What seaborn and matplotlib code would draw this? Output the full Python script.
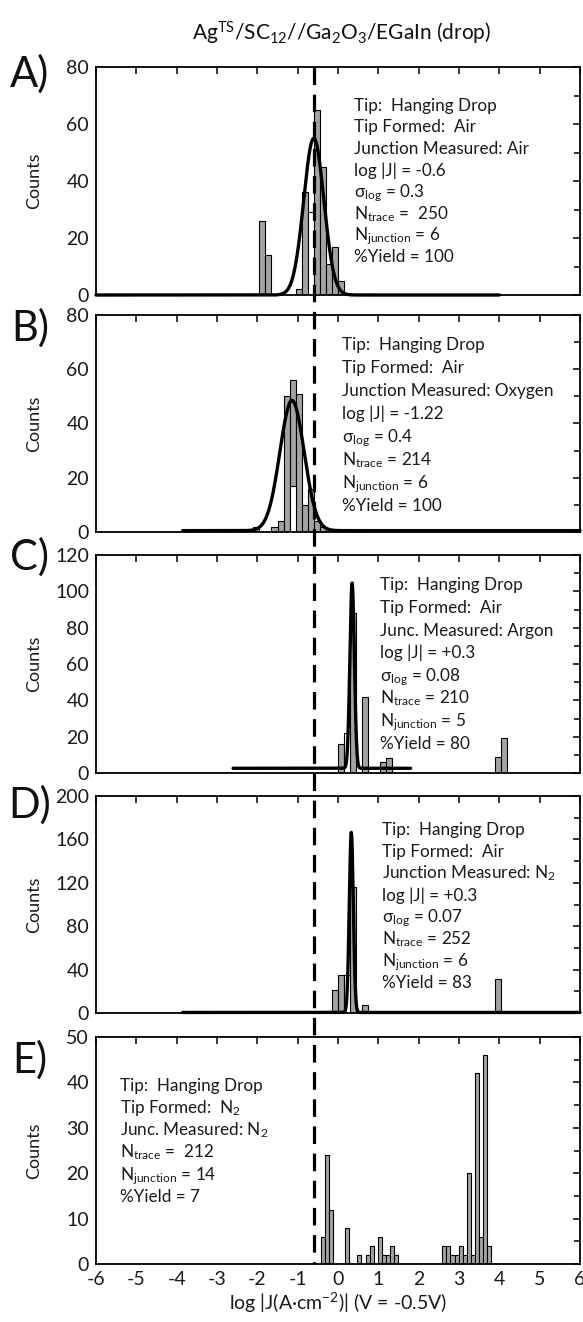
import numpy as np
import pandas as pd
import matplotlib
matplotlib.use("Agg")
import matplotlib.pyplot as plt
import matplotlib.transforms as mtransforms
from matplotlib.lines import Line2D
from matplotlib.ticker import MultipleLocator
import seaborn as sns

sns.set_theme(style="white")
plt.rcParams['font.family'] = ['Lato', 'DejaVu Sans']
plt.rcParams['mathtext.fontset'] = 'custom'
plt.rcParams['mathtext.rm'] = 'Lato'
plt.rcParams['mathtext.it'] = 'Lato:italic'
plt.rcParams['mathtext.bf'] = 'Lato:bold'
plt.rcParams['mathtext.default'] = 'rm'

# ---- datos ----
ref_logj = -0.6  # linea discontinua

# histogramas (centro de la barra, cuentas)
a_centers = [-1.875, -1.725, -0.975, -0.825, -0.525, -0.375, -0.225, -0.075, 0.075]
a_counts = [26, 14, 2, 36, 65, 45, 11, 17, 5]
a_hollow_centers = [-0.675]
a_hollow_counts = [29]

b_centers = [-2.025, -1.575, -1.425, -1.275, -1.125, -0.975, -0.825, -0.675, -0.525, -0.375]
b_counts = [2, 2, 4, 50, 56, 51, 10, 16, 4, 2]
b_hollow_centers = [-1.125]
b_hollow_counts = [17]

c_centers = [0.075, 0.375, 0.675, 1.125, 1.275, 3.975, 4.125]
c_counts = [16, 88, 42, 6, 8, 9, 19]
c_hollow_centers = [0.225]
c_hollow_counts = [22]

d_centers = [-0.075, 0.075, 0.375, 0.675, 3.975]
d_counts = [21, 35, 116, 7, 31]
d_hollow_centers = [0.225]
d_hollow_counts = [35]

e_centers = [-0.39, -0.29, -0.19, 0.21, 0.51, 0.71, 0.81, 1.01, 1.11, 1.21, 1.31, 1.41,
             2.61, 2.71, 2.81, 2.91, 3.01, 3.11, 3.21, 3.31, 3.41, 3.51, 3.61, 3.71]
e_counts = [6, 24, 12, 8, 2, 2, 4, 6, 2, 2, 4, 2,
            4, 4, 2, 2, 4, 2, 20, 2, 42, 6, 46, 4]

# ajustes gaussianos (A-D)
fit_mean = [-0.6, -1.14, 0.35, 0.33]
fit_sigma = [0.25, 0.30, 0.055, 0.05]
fit_peak = [55, 48, 102, 166]
fit_offset = [0, 0.5, 2.6, 0.5]
fit_start = [-6.0, -3.85, -2.6, -3.85]
fit_stop = [4.0, 6.0, 1.8, 6.0]

# ejes
y_max = [80, 80, 120, 200, 50]
y_major = [20, 20, 20, 40, 10]
y_minor = [10, 10, 10, 20, 5]
panel_letters = ["A)", "B)", "C)", "D)", "E)"]

notes = [
    ["Tip:  Hanging Drop", "Tip Formed:  Air", "Junction Measured: Air", "log |J| = -0.6",
     r"$\sigma_{log}$ = 0.3", r"$N_{trace}$ =  250", r"$N_{junction}$ = 6", "%Yield = 100"],
    ["Tip:  Hanging Drop", "Tip Formed:  Air", "Junction Measured: Oxygen", "log |J| = -1.22",
     r"$\sigma_{log}$ = 0.4", r"$N_{trace}$ = 214", r"$N_{junction}$ = 6", "%Yield = 100"],
    ["Tip:  Hanging Drop", "Tip Formed:  Air", "Junc. Measured: Argon", "log |J| = +0.3",
     r"$\sigma_{log}$ = 0.08", r"$N_{trace}$ = 210", r"$N_{junction}$ = 5", "%Yield = 80"],
    ["Tip:  Hanging Drop", "Tip Formed:  Air", r"Junction Measured: $N_{2}$", "log |J| = +0.3",
     r"$\sigma_{log}$ = 0.07", r"$N_{trace}$ = 252", r"$N_{junction}$ = 6", "%Yield = 83"],
    ["Tip:  Hanging Drop", r"Tip Formed:  $N_{2}$", r"Junc. Measured: $N_{2}$",
     r"$N_{trace}$ =  212", r"$N_{junction}$ = 14", "%Yield = 7"],
]

# ---- disposicion en pixeles ----
W, H = 583, 1322
left_px, right_px = 96, 580
panel_px = [(67, 295), (315, 532), (555, 773), (796, 1013), (1037, 1264)]
note_px = [(354, 105, 21.7), (342, 345, 22.9), (380, 585, 22.6), (382, 829, 22.0), (120, 1085, 22.4)]
letter_y_px = [74, 328, 557, 805, 1060]

fig = plt.figure(figsize=(W / 100, H / 100), dpi=100)

hist_data = [(a_centers, a_counts, a_hollow_centers, a_hollow_counts),
             (b_centers, b_counts, b_hollow_centers, b_hollow_counts),
             (c_centers, c_counts, c_hollow_centers, c_hollow_counts),
             (d_centers, d_counts, d_hollow_centers, d_hollow_counts),
             (e_centers, e_counts, [], [])]


def draw_hist(ax, centers, counts, color, width, start):
    df = pd.DataFrame({"logJ": centers, "n": counts})
    sns.histplot(data=df, x="logJ", weights="n", binwidth=width, binrange=(start, 6.0),
                 ax=ax, color=color, alpha=1, edgecolor="black", linewidth=0.8)


axes = []
for i, (top, bot) in enumerate(panel_px):
    ax = fig.add_axes([left_px / W, 1 - bot / H, (right_px - left_px) / W, (bot - top) / H])
    axes.append(ax)
    centers, counts, hc, hcnt = hist_data[i]
    width, start = (0.1, -5.94) if i == 4 else (0.15, -6.0)

    draw_hist(ax, centers, counts, "#a3a3a3", width, start)
    if hc:
        draw_hist(ax, hc, hcnt, "white", width, start)

    if i < 4:
        xg = np.linspace(fit_start[i], fit_stop[i], 800)
        yg = fit_offset[i] + fit_peak[i] * np.exp(-0.5 * ((xg - fit_mean[i]) / fit_sigma[i]) ** 2)
        sns.lineplot(x=xg, y=yg, ax=ax, color="black", linewidth=2.4, estimator=None, sort=False)
        ax.lines[-1].set_clip_on(False)

    ax.set_xlim(-6, 6)
    ax.set_ylim(0, y_max[i])
    ax.xaxis.set_major_locator(MultipleLocator(1))
    ax.yaxis.set_major_locator(MultipleLocator(y_major[i]))
    ax.yaxis.set_minor_locator(MultipleLocator(y_minor[i]))
    ax.tick_params(which="both", direction="in", top=True, right=True, width=1.1,
                   color="black", labelsize=14, pad=5, labelcolor="#1a1a1a")
    ax.tick_params(which="major", length=5)
    ax.tick_params(which="minor", length=4)
    for s in ax.spines.values():
        s.set_linewidth(1.3)
        s.set_color("black")
    ax.set_ylabel("Counts", fontsize=13, color="#1a1a1a")
    ax.yaxis.set_label_coords((42 - left_px) / (right_px - left_px), 0.5)
    if i < 4:
        ax.set_xlabel("")
        ax.tick_params(labelbottom=False)

    # anotaciones
    x0, y0, dy = note_px[i]
    for k, line in enumerate(notes[i]):
        fig.text(x0 / W, 1 - (y0 + k * dy + 5.5) / H, line, fontsize=12.3,
                 ha="left", va="baseline", color="#1a1a1a")

    fig.text(30 / W, 1 - letter_y_px[i] / H, panel_letters[i], fontsize=30,
             ha="center", va="center", color="#111111")

axE = axes[-1]
axE.set_xlabel(r"log |J(A·$cm^{-2}$)| (V = -0.5V)", fontsize=14, color="#1a1a1a")
axE.xaxis.set_label_coords(0.5, (1264 - 1303) / (1264 - 1037))
axE.xaxis.label.set_va("center")
axE.set_xticks(range(-6, 7))
axE.set_xticklabels([str(v) for v in range(-6, 7)])

# linea discontinua que cruza todos los paneles
trans = mtransforms.blended_transform_factory(axE.transData, fig.transFigure)
fig.add_artist(Line2D([ref_logj, ref_logj], [1 - 67 / H, 1 - 1264 / H], transform=trans,
                      color="black", linewidth=2.3, dashes=(5.5, 3.0), zorder=10))

fig.text(342 / W, 1 - 33 / H, r"$Ag^{TS}$/$SC_{12}$//$Ga_{2}O_{3}$/EGaIn (drop)",
         fontsize=15, ha="center", va="center", color="#111111")

fig.savefig("out.png", dpi=100)
